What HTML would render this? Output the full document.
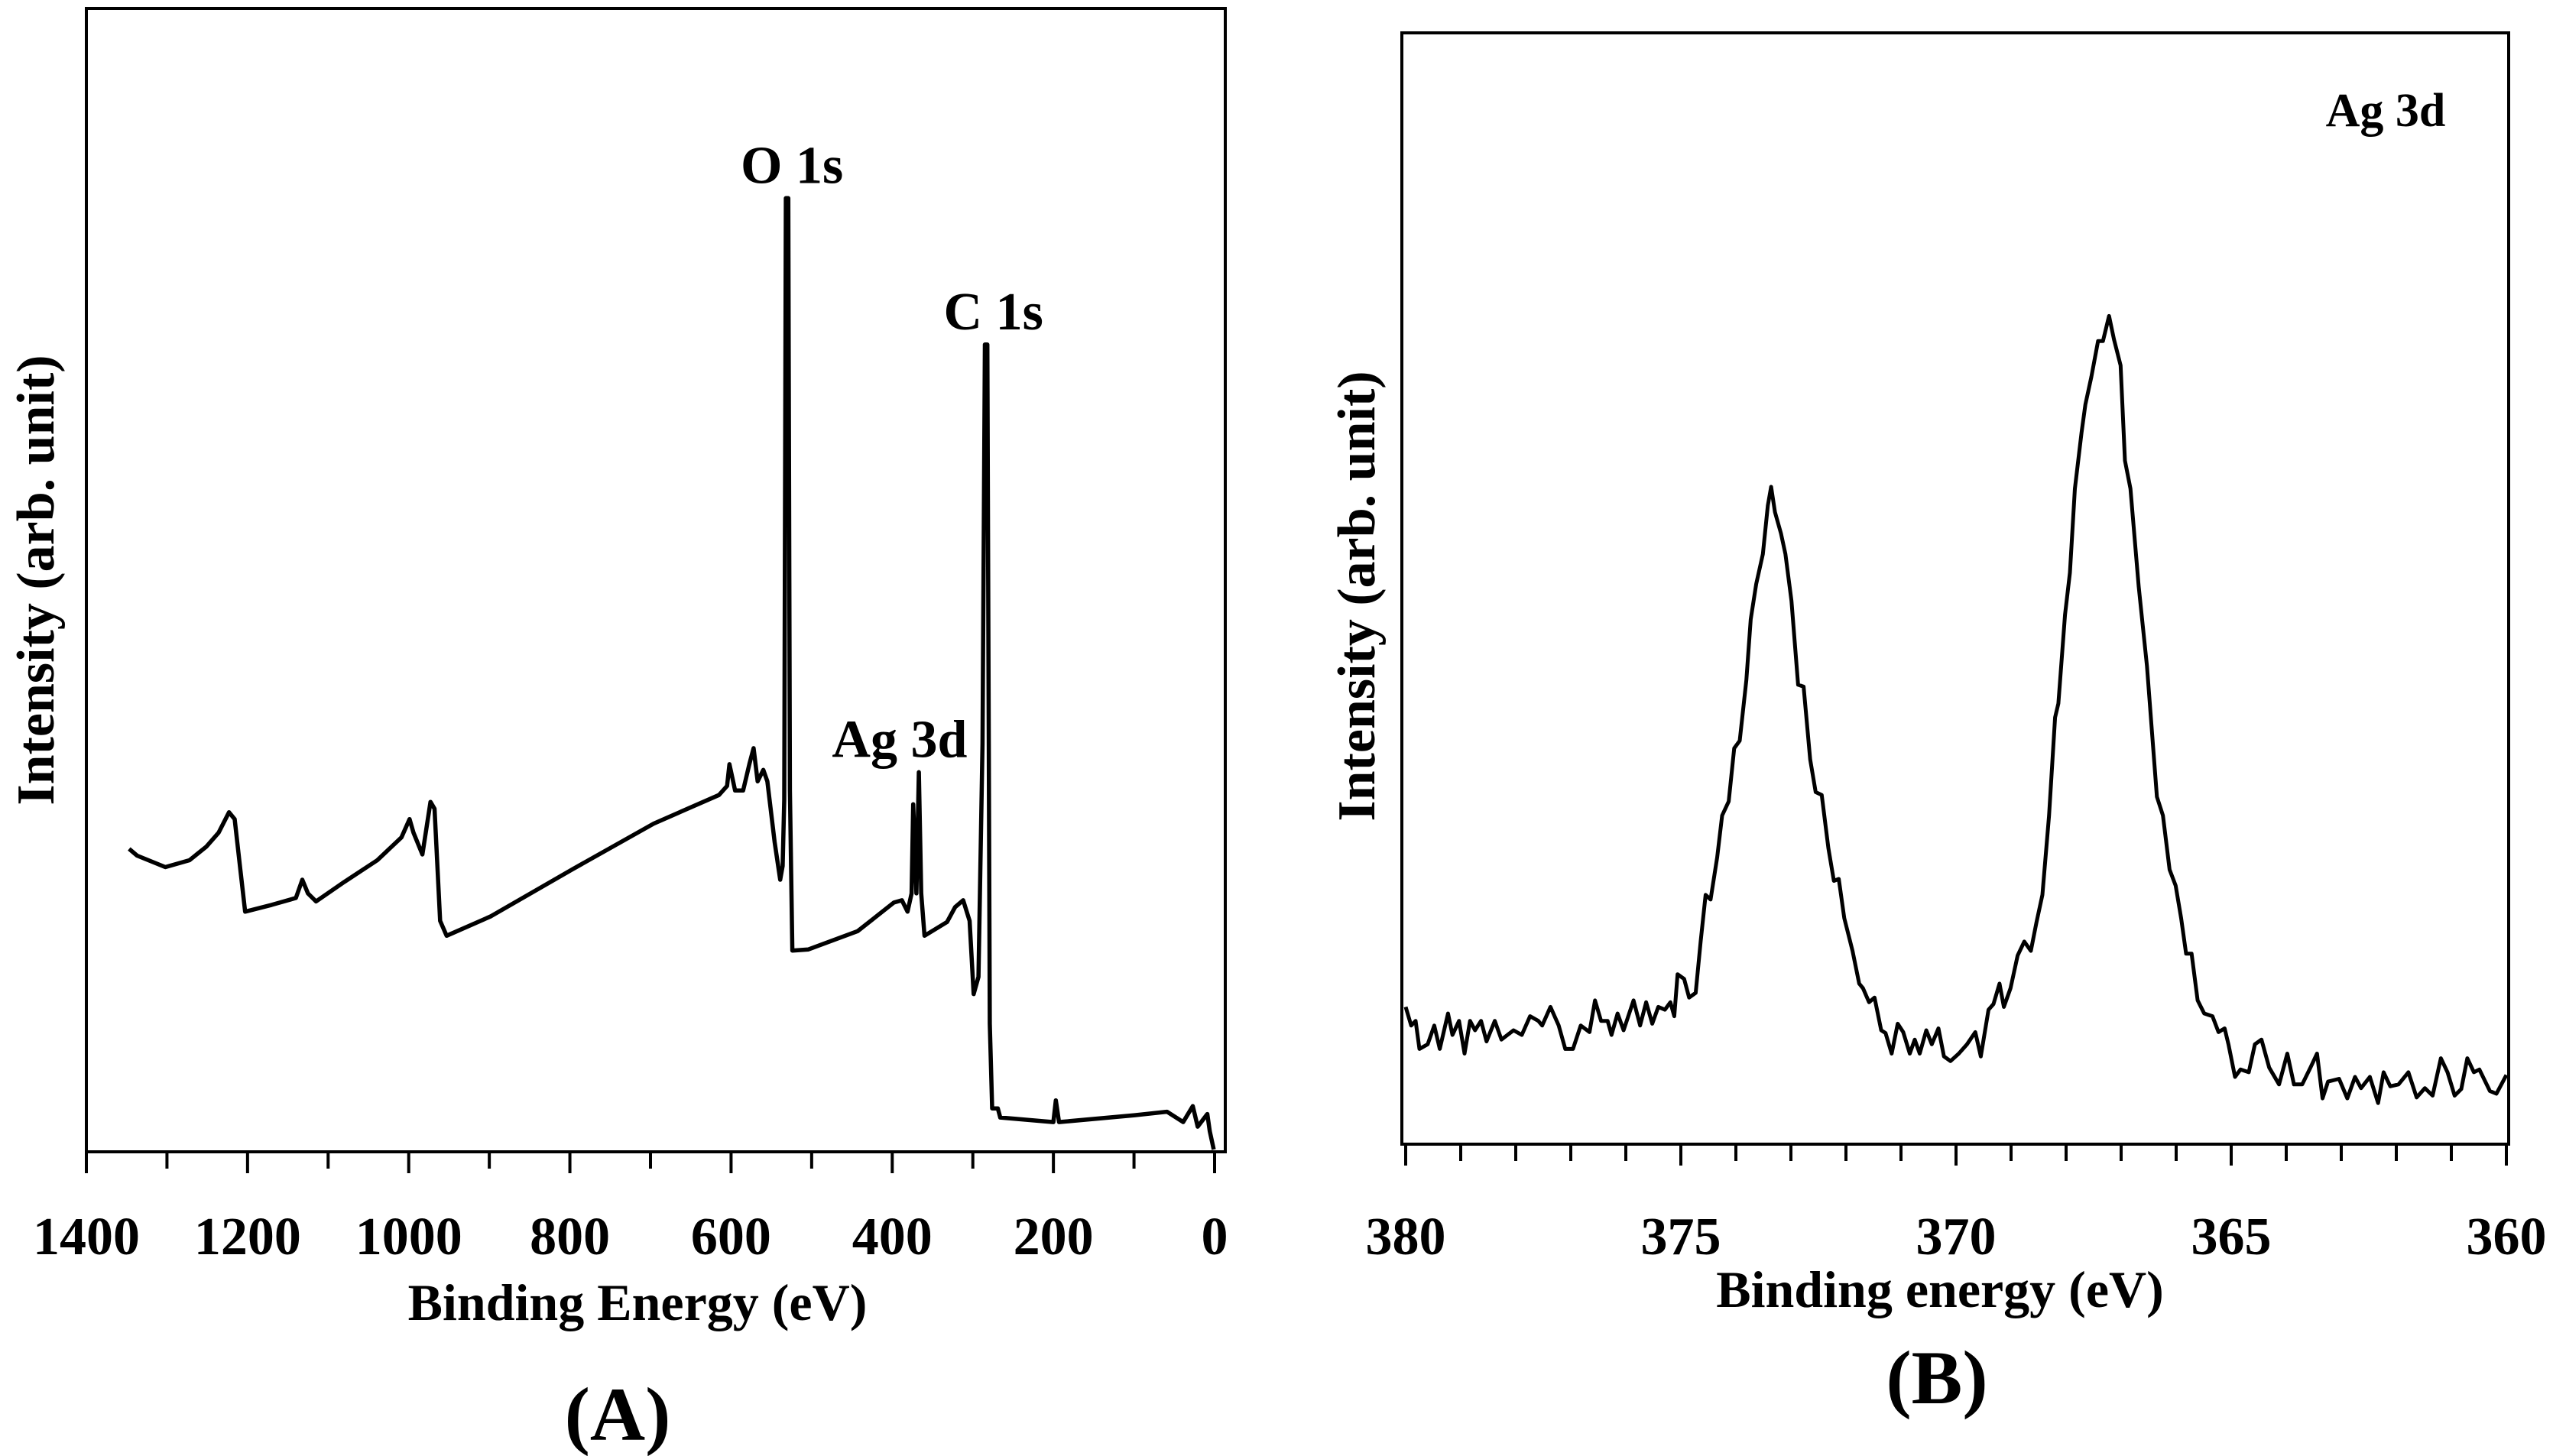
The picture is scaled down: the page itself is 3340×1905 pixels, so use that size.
<!DOCTYPE html>
<html><head><meta charset="utf-8"><style>
html,body{margin:0;padding:0;background:#fff;}
svg{display:block;}
text{font-family:"Liberation Serif",serif;font-weight:bold;fill:#000;}
</style></head><body>
<svg id="fig" width="3340" height="1905" viewBox="0 0 3340 1905" xmlns="http://www.w3.org/2000/svg">
<g id="panelA"></g>
<g id="panelB"></g>
</svg>
<script>
// Panel A: survey spectrum
const energiesA = [1347,1337,1302,1272,1251,1236,1223,1216,1209,1203,1170,1140,1132,1125,1115,1080,1039,1009,999,994,983,973,968,961,953,898,797,696,615,605,602,595,585,577,572,567,560,555,546,539,536,534,532,529,527,524,504,443,398,388,381,376,374,370,367,364,360,332,322,312,304,299,293,288,285,282,279,276,269,266,200,197,193,99,59,39,27,21,9,6,1];
const intensityA = [26.5,25.9,24.9,25.5,26.7,27.9,29.7,29.1,24.7,21.0,21.6,22.2,23.8,22.6,21.9,23.6,25.5,27.5,29.1,27.9,26.0,30.6,30.0,20.2,18.9,20.6,24.7,28.7,31.2,32.0,33.9,31.6,31.6,34.0,35.3,32.4,33.4,32.4,27.1,23.8,25.0,30.8,83.4,83.4,31.6,17.6,17.7,19.3,21.8,22.0,21.0,22.6,30.4,22.6,33.2,22.6,18.9,20.1,21.4,22.0,20.2,13.8,15.3,35.7,70.6,70.6,11.2,3.8,3.8,3.0,2.6,4.5,2.6,3.2,3.5,2.6,4.0,2.2,3.3,1.8,0.2];
const ticksA = [1400,1200,1000,800,600,400,200,0];
const minorTicksA = [1300,1100,900,700,500,300,100];
const peakLabelsA = ["O 1s","C 1s","Ag 3d"];
const peakEnergiesA = [532,282,370];
const peakIntensitiesA = [83.4,70.6,33.2];

// Panel B: Ag 3d high-resolution
const energiesB = [380.00,379.90,379.82,379.75,379.60,379.48,379.38,379.23,379.15,379.03,
378.93,378.83,378.74,378.63,378.53,378.38,378.26,378.04,377.89,377.74,
377.59,377.52,377.37,377.22,377.10,376.96,376.82,376.66,376.56,376.45,
376.33,376.26,376.15,376.04,375.86,375.74,375.63,375.52,375.41,375.29,
375.19,375.12,375.06,374.94,374.85,374.73,374.64,374.55,374.46,374.34,
374.25,374.13,374.03,373.93,373.81,373.73,373.63,373.51,373.42,373.36,
373.29,373.18,373.10,372.99,372.87,372.77,372.65,372.55,372.44,372.32,
372.22,372.13,372.03,371.88,371.76,371.69,371.58,371.48,371.36,371.28,
371.17,371.06,370.96,370.84,370.75,370.66,370.54,370.44,370.32,370.22,
370.10,369.95,369.80,369.65,369.55,369.41,369.32,369.21,369.13,369.01,
368.88,368.76,368.64,368.54,368.43,368.31,368.20,368.14,368.02,367.93,
367.84,367.72,367.65,367.54,367.42,367.33,367.22,367.13,367.01,366.93,
366.83,366.68,366.53,366.35,366.24,366.12,366.01,365.91,365.82,365.72,
365.61,365.49,365.34,365.23,365.12,365.05,364.93,364.83,364.68,364.57,
364.45,364.31,364.13,363.98,363.86,363.71,363.56,363.44,363.34,363.24,
363.04,362.89,362.75,362.64,362.48,362.33,362.23,362.11,361.96,361.78,
361.63,361.48,361.34,361.19,361.07,360.94,360.82,360.71,360.59,360.49,
360.30,360.18,360.00];
const intensityB = [147,127,132,102,107,127,102,140,117,132,
97,132,122,132,110,132,112,122,117,137,
132,127,147,127,102,102,127,120,154,132,
132,117,140,122,154,127,152,129,147,144,
152,137,182,177,157,162,217,267,262,307,
352,367,424,432,497,562,600,632,684,704,
677,654,632,582,492,490,412,377,374,317,
282,284,242,207,172,167,152,157,122,119,
97,129,120,97,112,97,122,107,124,94,
89,97,107,120,94,144,150,172,147,167,
202,217,207,237,267,352,457,472,567,612,
702,762,792,822,860,860,887,862,834,732,
702,597,512,372,352,294,277,242,204,204,
154,140,137,120,124,107,72,80,77,107,
112,82,64,97,64,64,82,97,49,67,
70,49,72,60,72,44,77,62,64,77,
50,60,52,92,77,52,59,92,77,80,
57,54,74];
const ticksB = [380,375,370,365,360];
const minorTicksB = [379,378,377,376,374,373,372,371,369,368,367,366,364,363,362,361];

const NS="http://www.w3.org/2000/svg";
function mk(parent,tag,attrs,txt){const e=document.createElementNS(NS,tag);for(const k in attrs)e.setAttribute(k,attrs[k]);if(txt!==undefined)e.textContent=txt;parent.appendChild(e);return e;}

// ---------- Panel A ----------
const gA=document.getElementById('panelA');
const A={l:113,r:1603,t:11,b:1507};
const xA=e=>113+(1400-e)/1400*1476;
const yA=v=>1507-v*14.96;
let el=mk(gA,'rect',{x:A.l,y:A.t,width:A.r-A.l,height:A.b-A.t,fill:'none',stroke:'#000','stroke-width':4});


let dA=energiesA.map((e,i)=>(i?'L':'M')+xA(e).toFixed(1)+' '+yA(intensityA[i]).toFixed(1)).join(' ');
el=mk(gA,'path',{d:dA,fill:'none',stroke:'#000','stroke-width':5.5,'stroke-linejoin':'round'});


ticksA.forEach(t=>{
  let tk=mk(gA,'line',{x1:xA(t),x2:xA(t),y1:A.b,y2:A.b+28,stroke:'#000','stroke-width':4});
  
  
  let lb=mk(gA,'text',{x:xA(t),y:1641,'text-anchor':'middle','font-size':70},String(t));
  
  
});
minorTicksA.forEach(t=>{
  let tk=mk(gA,'line',{x1:xA(t),x2:xA(t),y1:A.b,y2:A.b+22,stroke:'#000','stroke-width':4});
  
  
});
el=mk(gA,'text',{x:834,y:1727,'text-anchor':'middle','font-size':68},'Binding Energy (eV)');


el=mk(gA,'text',{x:0,y:0,'text-anchor':'middle','font-size':70,transform:'translate(70,759) rotate(-90)'},'Intensity (arb. unit)');


el=mk(gA,'text',{x:808,y:1884,'text-anchor':'middle','font-size':100},'(A)');


peakLabelsA.forEach((s,i)=>{
  let lb=mk(gA,'text',{x:xA(peakEnergiesA[i])+(i==2?-22:8),y:yA(peakIntensitiesA[i])-20,'text-anchor':'middle','font-size':70},s);
  
  
});

// ---------- Panel B ----------
const gB=document.getElementById('panelB');
const B={l:1834,r:3282,t:43,b:1497};
const xB=e=>1839+(380-e)/20*1440;
const yB=v=>1497-v*1.2217;
el=mk(gB,'rect',{x:B.l,y:B.t,width:B.r-B.l,height:B.b-B.t,fill:'none',stroke:'#000','stroke-width':4});


let dB=energiesB.map((e,i)=>(i?'L':'M')+xB(e).toFixed(1)+' '+yB(intensityB[i]).toFixed(1)).join(' ');
el=mk(gB,'path',{d:dB,fill:'none',stroke:'#000','stroke-width':5,'stroke-linejoin':'round'});


ticksB.forEach(t=>{
  let tk=mk(gB,'line',{x1:xB(t),x2:xB(t),y1:B.b,y2:B.b+28,stroke:'#000','stroke-width':4});
  
  
  let lb=mk(gB,'text',{x:xB(t),y:1641,'text-anchor':'middle','font-size':70},String(t));
  
  
});
minorTicksB.forEach(t=>{
  let tk=mk(gB,'line',{x1:xB(t),x2:xB(t),y1:B.b,y2:B.b+22,stroke:'#000','stroke-width':4});
  
  
});
el=mk(gB,'text',{x:2538,y:1710,'text-anchor':'middle','font-size':68},'Binding energy (eV)');


el=mk(gB,'text',{x:0,y:0,'text-anchor':'middle','font-size':70,transform:'translate(1798,780) rotate(-90)'},'Intensity (arb. unit)');


el=mk(gB,'text',{x:2534,y:1836,'text-anchor':'middle','font-size':100},'(B)');


el=mk(gB,'text',{x:3121,y:165,'text-anchor':'middle','font-size':62},'Ag 3d');


</script>
</body></html>
